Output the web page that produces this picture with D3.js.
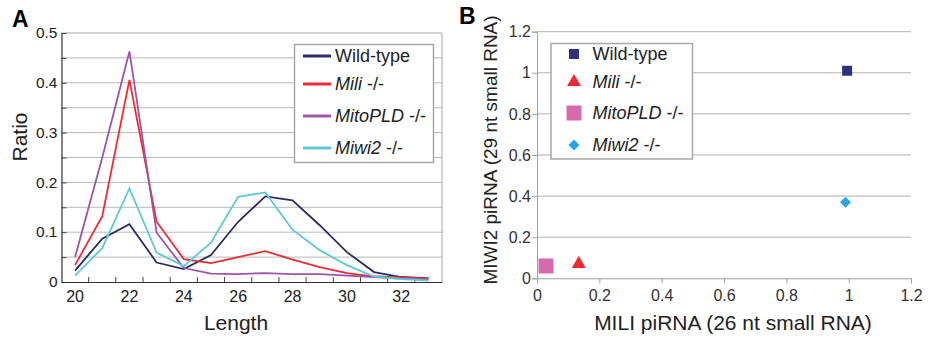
<!DOCTYPE html>
<html>
<head>
<meta charset="utf-8">
<script src="https://cdn.jsdelivr.net/npm/d3@7"></script>
<style>
  body { margin: 0; background: #fff; }
  svg { font-family: "Liberation Sans", Arial, sans-serif; }
</style>
</head>
<body>
<svg id="chart" width="928" height="341"></svg>
<script>
// panel A data
var lengths = [20, 21, 22, 23, 24, 25, 26, 27, 28, 29, 30, 31, 32, 33];
var wildType = [0.023, 0.087, 0.116, 0.039, 0.026, 0.054, 0.121, 0.172, 0.164, 0.114, 0.060, 0.020, 0.010, 0.007];
var mili = [0.034, 0.132, 0.406, 0.121, 0.046, 0.038, 0.050, 0.062, 0.045, 0.030, 0.018, 0.011, 0.009, 0.007];
var mitoPLD = [0.050, 0.250, 0.463, 0.099, 0.028, 0.017, 0.016, 0.018, 0.016, 0.016, 0.013, 0.010, 0.007, 0.005];
var miwi2 = [0.013, 0.068, 0.188, 0.059, 0.032, 0.079, 0.171, 0.180, 0.105, 0.064, 0.034, 0.011, 0.006, 0.003];
var seriesNames = ["Wild-type", "Mili", "MitoPLD", "Miwi2"];
var seriesColors = ["#2b2d62", "#ee2a35", "#9b55a8", "#5ccad3"];
var lengthTicks = [20, 22, 24, 26, 28, 30, 32];

// panel B data
var miliPirna = [0.995, 0.134, 0.029, 0.99];
var miwi2Pirna = [1.01, 0.07, 0.06, 0.37];
var pointColors = ["#2e3081", "#ee2a35", "#d66aad", "#27a7df"];
var scatterTicks = [0, 0.2, 0.4, 0.6, 0.8, 1, 1.2];

var svg = d3.select("#chart");
var fmt = function (d) { return d === 0 ? "0" : String(d); };

// ---------- panel A ----------
var a = { left: 61.5, right: 442, top: 33, bottom: 282 };

var x = d3.scaleBand().domain(lengths).range([a.left, a.right]);
var y = d3.scaleLinear().domain([0, 0.5]).range([a.bottom, a.top]);

var gA = svg.append("g");

gA.selectAll(".gridA")
  .data(d3.range(1, 10).map(function (i) { return i * 0.05; }))
  .enter().append("line")
  .attr("x1", a.left).attr("x2", a.right)
  .attr("y1", function (d) { return y(d); }).attr("y2", function (d) { return y(d); })
  .attr("stroke", "#b8b8b8").attr("stroke-width", 1);

// frame
gA.append("line").attr("x1", a.left).attr("x2", a.right).attr("y1", a.top).attr("y2", a.top)
  .attr("stroke", "#a8a8a8");
gA.append("line").attr("x1", a.right).attr("x2", a.right).attr("y1", a.top).attr("y2", a.bottom)
  .attr("stroke", "#a8a8a8");

var yAxisA = d3.axisLeft(y).tickValues(d3.range(0, 11).map(function (i) { return i * 0.05; }))
  .tickSize(-5).tickPadding(4)
  .tickFormat(function (d) {
    var r = Math.round(d * 100);
    return r % 10 === 0 ? fmt(r / 100) : "";
  });
var yA = gA.append("g").attr("transform", "translate(" + a.left + ",0)").call(yAxisA);
yA.select(".domain").attr("stroke", "#333").attr("stroke-width", 1.2);
yA.selectAll(".tick line").attr("stroke", "#444");
yA.selectAll("text").attr("font-size", 15.5).attr("fill", "#222").attr("dy", "0.3em");

var xAxisA = d3.axisBottom(x).tickSize(0).tickPadding(9)
  .tickFormat(function (d) { return lengthTicks.indexOf(d) >= 0 ? d : ""; });
var xA = gA.append("g").attr("transform", "translate(0," + a.bottom + ")").call(xAxisA);
xA.select(".domain").attr("stroke", "#333").attr("stroke-width", 1.2);
xA.selectAll("text").attr("font-size", 16).attr("fill", "#222");

// tick marks between categories
xA.selectAll(".sep")
  .data(lengths.slice(1))
  .enter().append("line")
  .attr("x1", function (d) { return x(d); }).attr("x2", function (d) { return x(d); })
  .attr("y1", 0).attr("y2", -5)
  .attr("stroke", "#444");

var allSeries = [wildType, mili, mitoPLD, miwi2];
var line = d3.line()
  .x(function (d, i) { return x(lengths[i]) + x.bandwidth() / 2; })
  .y(function (d) { return y(d); });

gA.selectAll(".series")
  .data(allSeries)
  .enter().append("path")
  .attr("d", line)
  .attr("fill", "none")
  .attr("stroke", function (d, i) { return seriesColors[i]; })
  .attr("stroke-width", 1.8);

// legend A
var legA = gA.append("g");
legA.append("rect").attr("x", 294.5).attr("y", 44.5).attr("width", 139).attr("height", 118)
  .attr("fill", "#fff").attr("stroke", "#a8a8a8").attr("stroke-width", 1.5);
var legRowsA = [56, 84, 116, 148];
seriesNames.forEach(function (name, i) {
  legA.append("line").attr("x1", 303).attr("x2", 331)
    .attr("y1", legRowsA[i]).attr("y2", legRowsA[i])
    .attr("stroke", seriesColors[i]).attr("stroke-width", 3);
  var t = legA.append("text").attr("x", 335).attr("y", legRowsA[i] + 6)
    .attr("font-size", 18).attr("fill", "#222");
  if (i === 0) {
    t.text(name);
  } else {
    t.append("tspan").attr("font-style", "italic").text(name);
    t.append("tspan").text(" -/-");
  }
});

gA.append("text").attr("x", 12).attr("y", 27).attr("font-size", 23).attr("font-weight", "bold")
  .text("A");
gA.append("text").attr("transform", "translate(27,137) rotate(-90)").attr("text-anchor", "middle")
  .attr("font-size", 21).attr("fill", "#222").text("Ratio");
gA.append("text").attr("x", 236).attr("y", 330).attr("text-anchor", "middle")
  .attr("font-size", 21).attr("fill", "#222").text("Length");

// ---------- panel B ----------
var b = { left: 537, right: 911, top: 31.7, bottom: 278.3 };
var xs = d3.scaleLinear().domain([0, 1.2]).range([b.left, b.right]);
var ys = d3.scaleLinear().domain([0, 1.2]).range([b.bottom, b.top]);

var gB = svg.append("g");

gB.selectAll(".gridB")
  .data(scatterTicks.slice(1))
  .enter().append("line")
  .attr("x1", b.left).attr("x2", b.right)
  .attr("y1", function (d) { return ys(d); }).attr("y2", function (d) { return ys(d); })
  .attr("stroke", "#b0b0b0").attr("stroke-width", 1);

var yAxisB = d3.axisLeft(ys).tickValues(scatterTicks).tickSize(5).tickPadding(1).tickFormat(fmt);
var yB = gB.append("g").attr("transform", "translate(" + b.left + ",0)").call(yAxisB);
yB.select(".domain").attr("stroke", "#a0a0a0");
yB.selectAll(".tick line").attr("stroke", "#a0a0a0");
yB.selectAll("text").attr("font-size", 16).attr("fill", "#333");

var xAxisB = d3.axisBottom(xs).tickValues(scatterTicks).tickSize(5).tickPadding(6).tickFormat(fmt);
var xB = gB.append("g").attr("transform", "translate(0," + b.bottom + ")").call(xAxisB);
xB.select(".domain").attr("stroke", "#a0a0a0");
xB.selectAll(".tick line").attr("stroke", "#a0a0a0");
xB.selectAll("text").attr("font-size", 16).attr("fill", "#333");

var square = d3.symbol().type(d3.symbolSquare);
var symbols = [
  function () { return square.size(100)(); },
  function () { return d3.symbol().type(d3.symbolTriangle).size(85)(); },
  function () { return square.size(225)(); },
  function () { return square.size(60)(); }
];
var rotations = [0, 0, 0, 45];

gB.selectAll(".pt")
  .data(miliPirna)
  .enter().append("path")
  .attr("transform", function (d, i) {
    return "translate(" + xs(d) + "," + ys(miwi2Pirna[i]) + ") rotate(" + rotations[i] + ")";
  })
  .attr("d", function (d, i) { return symbols[i](); })
  .attr("fill", function (d, i) { return pointColors[i]; });

// legend B
var legB = gB.append("g");
legB.append("rect").attr("x", 551).attr("y", 43.5).attr("width", 141.5).attr("height", 115.5)
  .attr("fill", "#fff").attr("stroke", "#a8a8a8").attr("stroke-width", 1.5);
var legRowsB = [54, 82, 113, 145];
seriesNames.forEach(function (name, i) {
  legB.append("path")
    .attr("transform", "translate(574," + legRowsB[i] + ") rotate(" + rotations[i] + ")")
    .attr("d", symbols[i]()).attr("fill", pointColors[i]);
  var t = legB.append("text").attr("x", 592.5).attr("y", legRowsB[i] + 6)
    .attr("font-size", 18).attr("fill", "#222");
  if (i === 0) {
    t.text(name);
  } else {
    t.append("tspan").attr("font-style", "italic").text(name);
    t.append("tspan").text(" -/-");
  }
});

gB.append("text").attr("x", 459).attr("y", 24).attr("font-size", 23).attr("font-weight", "bold")
  .text("B");
gB.append("text").attr("transform", "translate(497,150) rotate(-90)").attr("text-anchor", "middle")
  .attr("font-size", 19).attr("fill", "#222").text("MIWI2 piRNA (29 nt small RNA)");
gB.append("text").attr("x", 733).attr("y", 330).attr("text-anchor", "middle")
  .attr("font-size", 21).attr("fill", "#222").text("MILI piRNA (26 nt small RNA)");
</script>
</body>
</html>
